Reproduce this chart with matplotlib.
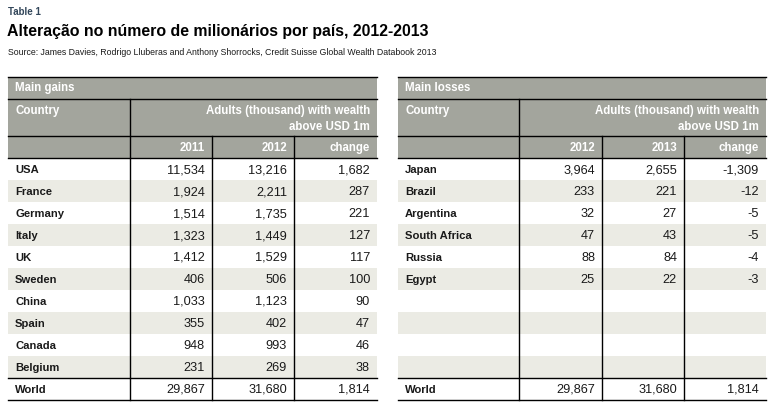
import matplotlib.pyplot as plt
from matplotlib.patches import Rectangle

# --- data ---
gain_countries = ['USA', 'France', 'Germany', 'Italy', 'UK', 'Sweden', 'China', 'Spain', 'Canada', 'Belgium']
gain_2011 = [11534, 1924, 1514, 1323, 1412, 406, 1033, 355, 948, 231]
gain_2012 = [13216, 2211, 1735, 1449, 1529, 506, 1123, 402, 993, 269]
gain_change = [1682, 287, 221, 127, 117, 100, 90, 47, 46, 38]

loss_countries = ['Japan', 'Brazil', 'Argentina', 'South Africa', 'Russia', 'Egypt']
loss_2012 = [3964, 233, 32, 47, 88, 25]
loss_2013 = [2655, 221, 27, 43, 84, 22]
loss_change = [-1309, -12, -5, -5, -4, -3]

world_a = [29867, 31680, 1814]
world_b = [29867, 31680, 1814]

gain_years = ['2011', '2012', 'change']
loss_years = ['2012', '2013', 'change']

title = 'Alteração no número de milionários por país, 2012-2013'
source = 'Source: James Davies, Rodrigo Lluberas and Anthony Shorrocks, Credit Suisse Global Wealth Databook 2013'

HEAD = '#a3a59d'
SHADE = '#ebebe4'
TXT = '#1a1a1a'
FONT = ['Liberation Sans', 'DejaVu Sans']

plt.rcParams['font.family'] = FONT

fig = plt.figure(figsize=(7.73, 4.12), dpi=100)
ax = fig.add_axes([0, 0, 1, 1])
ax.set_xlim(0, 773)
ax.set_ylim(412, 0)
ax.axis('off')

ax.text(8, 12, 'Table 1', fontsize=7, fontweight='bold', color='#33475b', va='center')
ax.text(7, 31, title, fontsize=11.4, fontweight='bold', color='black', va='center')
ax.text(8, 52, source, fontsize=6.3, color=TXT, va='center')


def fmt(v):
    return f'{v:,}'


def draw_table(cols, label, years, names, c1, c2, c3, world):
    # cols: x positions of column boundaries [left, div1, div2, div3, right]
    left, d1, d2, d3, right = cols
    top, h1, h2, h3 = 77, 99, 136, 158
    row_h = 22
    nrows = 10
    # header background
    ax.add_patch(Rectangle((left, top), right - left, h3 - top, color=HEAD, lw=0))
    # shaded alternating rows
    for i in range(nrows):
        y = h3 + i * row_h
        if i % 2 == 1:
            ax.add_patch(Rectangle((left, y), right - left, row_h, color=SHADE, lw=0))
    wy = h3 + nrows * row_h
    bottom = wy + row_h
    # horizontal lines
    for y in [top, h1, h2, h3, wy, bottom]:
        ax.plot([left, right], [y, y], color='black', lw=1.0)
    # vertical lines
    ax.plot([d1, d1], [h1, bottom], color='black', lw=1.0)
    for d in [d2, d3]:
        ax.plot([d, d], [h2, bottom], color='black', lw=1.0)
    # header text
    hs = 8.3
    ax.text(left + 7, (top + h1) / 2, label, color='white', fontsize=hs, fontweight='bold', va='center')
    ax.text(left + 7, 111, 'Country', color='white', fontsize=hs, fontweight='bold', va='center')
    ax.text(right - 7, 111, 'Adults (thousand) with wealth', color='white', fontsize=hs,
            fontweight='bold', va='center', ha='right')
    ax.text(right - 7, 127, 'above USD 1m', color='white', fontsize=hs,
            fontweight='bold', va='center', ha='right')
    rights = [d2 - 7, d3 - 7, right - 7]
    for xr, yl in zip(rights, years):
        ax.text(xr, (h2 + h3) / 2 + 1, yl, color='white', fontsize=hs, fontweight='bold',
                va='center', ha='right')
    # data rows
    ns = 9.2
    for i, name in enumerate(names):
        yc = h3 + i * row_h + row_h / 2 + 1
        ax.text(left + 7, yc, name, color=TXT, fontsize=8.1, fontweight='bold', va='center')
        for xr, vals in zip(rights, [c1, c2, c3]):
            ax.text(xr, yc, fmt(vals[i]), color=TXT, fontsize=ns, va='center', ha='right')
    yc = wy + row_h / 2 + 1
    ax.text(left + 7, yc, 'World', color=TXT, fontsize=8.1, fontweight='bold', va='center')
    for xr, v in zip(rights, world):
        ax.text(xr, yc, fmt(v), color=TXT, fontsize=ns, va='center', ha='right')


draw_table([8, 130, 212, 294, 377], 'Main gains', gain_years,
           gain_countries, gain_2011, gain_2012, gain_change, world_a)
draw_table([398, 519, 602, 684, 766], 'Main losses', loss_years,
           loss_countries, loss_2012, loss_2013, loss_change, world_b)

fig.savefig('out.png', dpi=100)
